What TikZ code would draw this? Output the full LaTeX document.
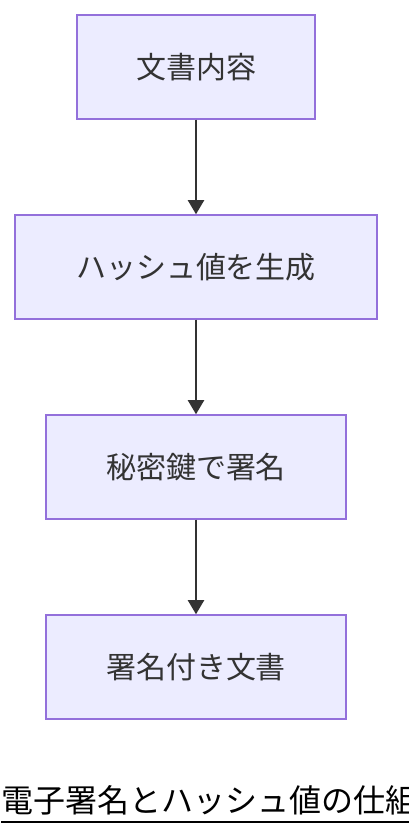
\documentclass[tikz,border=0pt]{standalone}
\usepackage{fontspec}
\usetikzlibrary{positioning,arrows.meta}
\newfontfamily\jpfont{Noto Sans CJK JP}
\definecolor{boxfill}{HTML}{ECECFF}
\definecolor{boxline}{HTML}{9370DB}
\definecolor{ink}{HTML}{333333}
\tikzset{
  box/.style={draw=boxline, fill=boxfill, line width=1.5pt, minimum height=104pt,
    text=ink, font=\jpfont\fontsize{30}{36}\selectfont},
  flow/.style={draw=ink, line width=2pt, -{Triangle[length=14pt,width=16pt]}},
  heading/.style={inner sep=0pt, text=black, font=\jpfont\fontsize{32}{38}\selectfont}
}
\begin{document}
\begin{tikzpicture}[x=1pt,y=1pt]
\useasboundingbox (0,0) rectangle (408,828);
\node[box, minimum width=238pt] (content) at (196,761) {文書内容};
\node[box, minimum width=362pt, below=94.5pt of content] (hash) {ハッシュ値を生成};
\node[box, minimum width=300pt, below=94.5pt of hash] (sign) {秘密鍵で署名};
\node[box, minimum width=300pt, below=94.5pt of sign] (signed) {署名付き文書};
\draw[flow] (content) -- (hash);
\draw[flow] (hash) -- (sign);
\draw[flow] (sign) -- (signed);
\node[heading, anchor=base west] (title) at (1,16) {電子署名とハッシュ値の仕組};
\draw[line width=2pt] ([yshift=-10pt]title.base west) -- ([yshift=-10pt]title.base east);
\end{tikzpicture}
\end{document}
